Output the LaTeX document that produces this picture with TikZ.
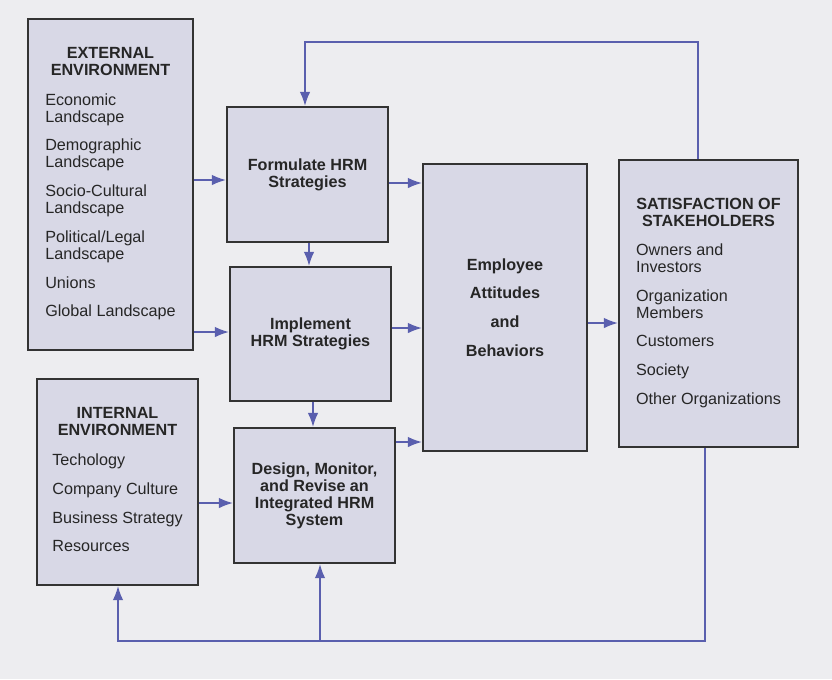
\documentclass[tikz,border=0pt]{standalone}
\usepackage{fontspec}
\setmainfont{Liberation Sans}
\usetikzlibrary{arrows.meta}
\definecolor{pagebg}{HTML}{EDEDF0}
\definecolor{boxfill}{HTML}{D8D8E6}
\definecolor{flowblue}{HTML}{5A5FAE}
\newcommand{\hd}[1]{\multicolumn{1}{@{}c@{}}{\bfseries #1}}

\begin{document}
\begin{tikzpicture}[x=0.025cm,y=-0.025cm,
    box/.style={draw=black!80,line width=1.5pt,fill=boxfill,inner sep=0pt,
                text=black!85,font=\fontsize{11.5}{12}\selectfont},
    flow/.style={draw=flowblue,line width=1.1pt,-{Latex[length=10pt,width=7.5pt]}}
]
\fill[pagebg] (0,0) rectangle (832,679);

\node[box,minimum width=4.125cm,minimum height=8.275cm] (ext) at (110.5,184.5) {%
  \begin{tabular}{@{}l@{}}
  \hd{EXTERNAL}\\ \hd{ENVIRONMENT}\\[9pt]
  Economic\\ Landscape\\[8.5pt]
  Demographic\\ Landscape\\[8.5pt]
  Socio-Cultural\\ Landscape\\[8.5pt]
  Political/Legal\\ Landscape\\[8.5pt]
  Unions\\[8.5pt]
  Global Landscape
  \end{tabular}};
\node[box,minimum width=4.025cm,minimum height=5.15cm] (intl) at (117.5,482) {%
  \begin{tabular}{@{}l@{}}
  \hd{INTERNAL}\\ \hd{ENVIRONMENT}\\[9pt]
  Techology\\[8.5pt]
  Company Culture\\[8.5pt]
  Business Strategy\\[8.5pt]
  Resources
  \end{tabular}};
\node[box,align=center,minimum width=4.025cm,minimum height=3.375cm] (form) at (307.5,174.5)
  {\bfseries Formulate HRM\\ \bfseries Strategies};
\node[box,align=center,minimum width=4.025cm,minimum height=3.35cm] (impl) at (310.5,334)
  {\bfseries Implement\\ \bfseries HRM Strategies};
\node[box,align=center,minimum width=4.025cm,minimum height=3.375cm] (dsgn) at (314.5,495.5)
  {\bfseries Design, Monitor,\\ \bfseries and Revise an\\ \bfseries Integrated HRM\\ \bfseries System};
\node[box,align=center,minimum width=4.1cm,minimum height=7.175cm] (emp) at (505,307.5)
  {\bfseries Employee\\[8.5pt] \bfseries Attitudes\\[8.5pt] \bfseries and\\[8.5pt] \bfseries Behaviors};
\node[box,minimum width=4.475cm,minimum height=7.175cm] (sat) at (708.5,303.5) {%
  \begin{tabular}{@{}l@{}}
  \hd{SATISFACTION OF}\\ \hd{STAKEHOLDERS}\\[9pt]
  Owners and\\ Investors\\[8.5pt]
  Organization\\ Members\\[8.5pt]
  Customers\\[8.5pt]
  Society\\[8.5pt]
  Other Organizations
  \end{tabular}};

% environment into the HRM boxes
\draw[flow] (ext.east |- 0,180) -- (form.west |- 0,180);
\draw[flow] (ext.east |- 0,332) -- (impl.west |- 0,332);
\draw[flow] (intl.east |- 0,503) -- (dsgn.west |- 0,503);
\draw[flow] (form.south -| 309,0) -- (impl.north -| 309,0);
\draw[flow] (impl.south -| 313,0) -- (dsgn.north -| 313,0);
% HRM boxes into employee box
\draw[flow] (form.east |- 0,183) -- (emp.west |- 0,183);
\draw[flow] (impl.east |- 0,328) -- (emp.west |- 0,328);
\draw[flow] (dsgn.east |- 0,442) -- (emp.west |- 0,442);
\draw[flow] (emp.east |- 0,323) -- (sat.west |- 0,323);

% feedback loops
\coordinate (fbtop) at (305,42);
\coordinate (fbbot) at (320,641);
\draw[flow] (sat.north -| 698,0) |- (fbtop) -- (form.north -| fbtop);
\draw[flow] (sat.south -| 705,0) |- (fbbot) -| (intl.south -| 118,0);
\draw[flow] (fbbot) -- (dsgn.south -| fbbot);
\end{tikzpicture}
\end{document}
